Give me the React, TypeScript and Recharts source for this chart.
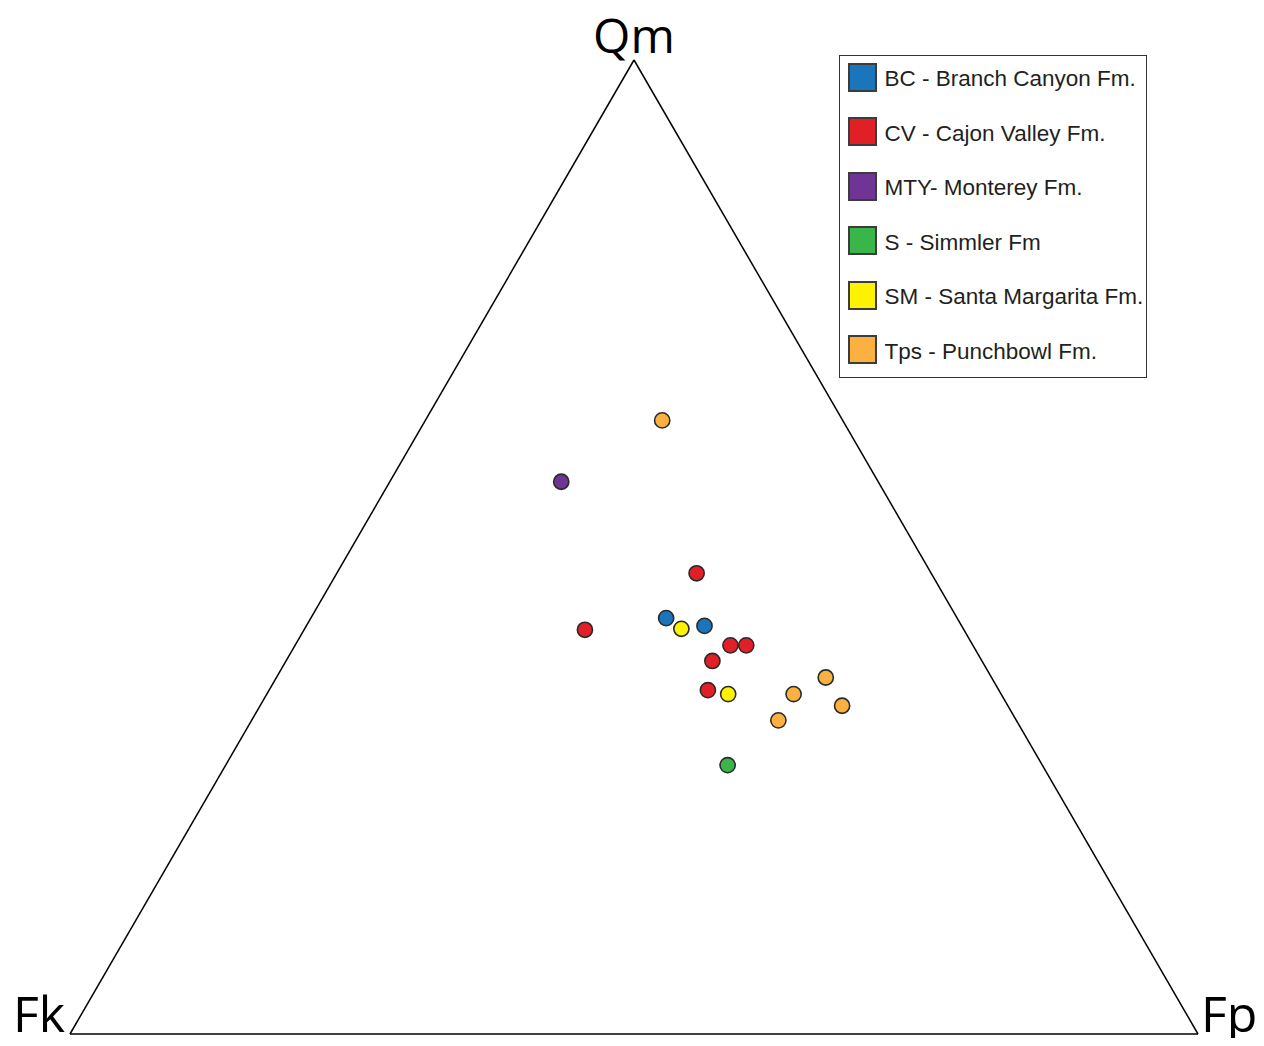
import React from 'react';
import {
  ScatterChart, Scatter, XAxis, YAxis, ReferenceLine, ReferenceDot, Legend,
} from 'recharts';

// Qm-Fk-Fp modal compositions (percent), one small list per formation
const bcSamples = [
  { qm: 42.7, fk: 25.8, fp: 31.5 },
  { qm: 41.9, fk: 22.8, fp: 35.3 },
];
const cvSamples = [
  { qm: 47.3, fk: 20.8, fp: 31.9 },
  { qm: 41.5, fk: 33.6, fp: 24.9 },
  { qm: 39.9, fk: 21.5, fp: 38.6 },
  { qm: 39.9, fk: 20.1, fp: 40.0 },
  { qm: 38.3, fk: 23.9, fp: 37.8 },
  { qm: 35.3, fk: 25.8, fp: 38.9 },
];
const mtySamples = [
  { qm: 56.7, fk: 28.1, fp: 15.2 },
];
const sSamples = [
  { qm: 27.6, fk: 27.9, fp: 44.5 },
];
const smSamples = [
  { qm: 41.6, fk: 25.0, fp: 33.4 },
  { qm: 34.9, fk: 24.2, fp: 40.9 },
];
const tpsSamples = [
  { qm: 63.0, fk: 16.0, fp: 21.0 },
  { qm: 36.6, fk: 14.7, fp: 48.7 },
  { qm: 34.9, fk: 18.4, fp: 46.7 },
  { qm: 33.7, fk: 14.7, fp: 51.6 },
  { qm: 32.2, fk: 21.1, fp: 46.7 },
];

const formations = [
  { name: 'BC - Branch Canyon Fm.', color: '#1b75bb', samples: bcSamples },
  { name: 'CV - Cajon Valley Fm.', color: '#e01f26', samples: cvSamples },
  { name: 'MTY- Monterey Fm.', color: '#6f3494', samples: mtySamples },
  { name: 'S - Simmler Fm', color: '#39b54a', samples: sSamples },
  { name: 'SM - Santa Margarita Fm.', color: '#fff200', samples: smSamples },
  { name: 'Tps - Punchbowl Fm.', color: '#fbb040', samples: tpsSamples },
];

// ternary -> cartesian (x: 0 Fk .. 100 Fp, y: 0 base .. 100 Qm apex)
const toXY = (s: { qm: number; fk: number; fp: number }) => ({
  x: s.fp + s.qm / 2,
  y: s.qm,
});

const textFont = '"Liberation Sans", Arial, sans-serif';
const apexFont = '"Open Sans", sans-serif';

function Dot(props: any) {
  return <circle cx={props.cx} cy={props.cy} r={7.6} fill={props.fill} stroke="#2b2b2b" strokeWidth={1.6} />;
}

function LegendBox({ payload }: any) {
  const items = payload || [];
  return (
    <div style={{
      width: 308, height: 323, boxSizing: 'border-box', border: '1.5px solid #333',
      background: '#fff', padding: '7px 0 0 7.5px',
    }}>
      {items.map((e: any) => {
        const f = formations.find(d => d.name === e.value);
        return (
          <div key={e.value} style={{ display: 'flex', alignItems: 'center', height: 28, marginBottom: 26.6 }}>
            <span style={{
              display: 'inline-block', width: 29, height: 29, boxSizing: 'border-box', flex: 'none',
              background: f ? f.color : e.color, border: '2px solid #3c3c3c', marginRight: 8,
            }} />
            <span style={{
              fontFamily: textFont, fontSize: 22.5, color: '#231f20', whiteSpace: 'nowrap',
              position: 'relative', top: 2,
            }}>
              {e.value}
            </span>
          </div>
        );
      })}
    </div>
  );
}

const apexLabel = (text: string, dx: number, dy: number, anchor: string, size: number) => (p: any) => (
  <text x={p.cx + dx} y={p.cy + dy} textAnchor={anchor} fontFamily={apexFont} fontSize={size} fill="#000">
    {text}
  </text>
);

export default function App() {
  return (
    <div style={{ margin: -8 }}>
      <ScatterChart width={1264} height={1046} margin={{ top: 60, right: 66, bottom: 12, left: 70 }}>
        <XAxis type="number" dataKey="x" domain={[0, 100]} hide />
        <YAxis type="number" dataKey="y" domain={[0, 100]} hide />
        <ReferenceLine segment={[{ x: 0, y: 0 }, { x: 100, y: 0 }]} stroke="#000" strokeWidth={1.5} />
        <ReferenceLine segment={[{ x: 0, y: 0 }, { x: 50, y: 100 }]} stroke="#000" strokeWidth={1.5} />
        <ReferenceLine segment={[{ x: 100, y: 0 }, { x: 50, y: 100 }]} stroke="#000" strokeWidth={1.5} />
        <ReferenceDot x={50} y={100} r={0} shape={apexLabel('Qm', 0, -7, 'middle', 48)} />
        <ReferenceDot x={0} y={0} r={0} shape={apexLabel('Fk', -5, -2, 'end', 50)} />
        <ReferenceDot x={100} y={0} r={0} shape={apexLabel('Fp', 3, -2, 'start', 50)} />
        {formations.map(f => (
          <Scatter
            key={f.name}
            name={f.name}
            data={f.samples.map(toXY)}
            fill={f.color}
            shape={Dot}
            isAnimationActive={false}
          />
        ))}
        <Legend
          layout="vertical"
          align="center"
          verticalAlign="middle"
          content={LegendBox}
          wrapperStyle={{ top: 55, left: 839, width: 308 }}
        />
      </ScatterChart>
    </div>
  );
}
